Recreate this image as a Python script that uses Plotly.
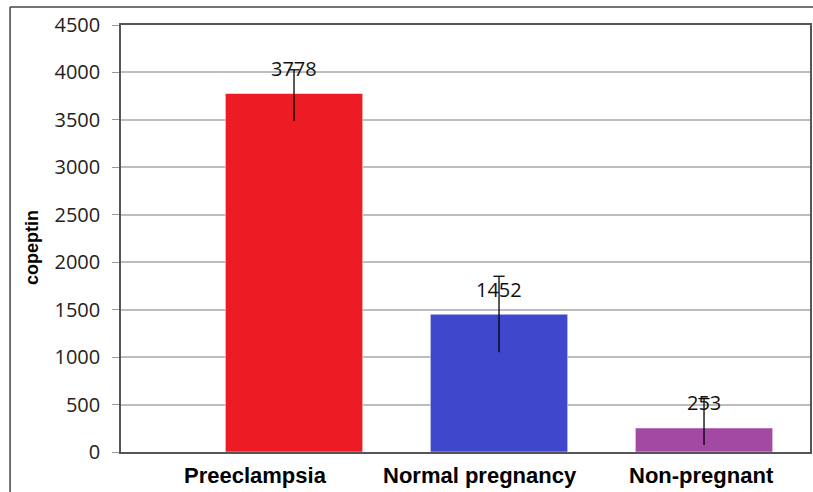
import plotly.graph_objects as go

categories = ["Preeclampsia", "Normal pregnancy", "Non-pregnant"]
values = [3778, 1452, 253]
err_plus = [250, 400, 310]
err_minus = [290, 400, 180]
bar_colors = ["#ED1C24", "#3F48CC", "#A349A4"]
y_ticks = [0, 500, 1000, 1500, 2000, 2500, 3000, 3500, 4000, 4500]
# category label positions (paper x) as laid out in the original image
label_x = [0.195, 0.521, 0.842]

fig = go.Figure()
fig.add_trace(go.Bar(
    x=categories, y=values, width=0.67,
    marker=dict(color=bar_colors, line=dict(color="rgba(255,255,255,0.5)", width=1)),
    showlegend=False, hoverinfo="skip",
))

# error bars: vertical line from low to high, cap at the top only
ex, ey = [], []
for c, v, p, m in zip(categories, values, err_plus, err_minus):
    ex += [c, c, None]
    ey += [v - m, v + p, None]
fig.add_trace(go.Scatter(x=ex, y=ey, mode="lines", line=dict(color="black", width=1.3),
                         showlegend=False, hoverinfo="skip"))
fig.add_trace(go.Scatter(
    x=categories, y=[v + p for v, p in zip(values, err_plus)], mode="markers",
    marker=dict(symbol="line-ew-open", size=8, color="black",
                line=dict(color="black", width=1.3)),
    showlegend=False, hoverinfo="skip"))

for c, v in zip(categories, values):
    fig.add_annotation(x=c, y=v, text=str(v), showarrow=False, yshift=25,
                       font=dict(family="Open Sans", size=20, color="#111"))

for c, lx in zip(categories, label_x):
    fig.add_annotation(xref="paper", yref="paper", x=lx, y=-0.056, text=c,
                       showarrow=False, xanchor="center", yanchor="middle",
                       font=dict(family="Liberation Sans", size=22, color="black",
                                 weight="bold"))

fig.add_annotation(xref="paper", yref="paper", x=-0.129, y=0.478, text="copeptin",
                   textangle=-90, showarrow=False, xanchor="center", yanchor="middle",
                   font=dict(family="Liberation Sans", size=18, color="black",
                             weight="bold"))

# outer frame
fig.add_shape(type="line", xref="paper", yref="paper", x0=-0.161, x1=-0.161, y0=1.042, y1=-0.2,
              line=dict(color="#444", width=1.5))
fig.add_shape(type="line", xref="paper", yref="paper", x0=-0.161, x1=1.01, y0=1.042, y1=1.042,
              line=dict(color="#444", width=1.5))

fig.update_layout(
    width=813, height=492,
    margin=dict(l=121, r=3, t=25, b=40, autoexpand=False),
    paper_bgcolor="white", plot_bgcolor="white",
)
fig.update_xaxes(
    range=[-0.844, 2.517], showgrid=False, showline=True, mirror=True,
    linecolor="#555", linewidth=1.5, ticks="", automargin=False,
    showticklabels=False,
)
fig.update_yaxes(
    range=[0, 4500], tickvals=y_ticks, ticktext=[str(t) for t in y_ticks],
    showgrid=True, gridcolor="#bdbdbd", gridwidth=1.5, automargin=False,
    showline=True, mirror=True, linecolor="#555", linewidth=1.5,
    ticks="outside", ticklen=7, tickcolor="#999",
    tickfont=dict(family="Open Sans", size=20, color="#222"),
    ticklabelstandoff=8, zeroline=False,
)
fig.write_html("out.html", config={"displayModeBar": False},
               post_script="document.body.style.margin='0';document.body.style.overflow='hidden';")
